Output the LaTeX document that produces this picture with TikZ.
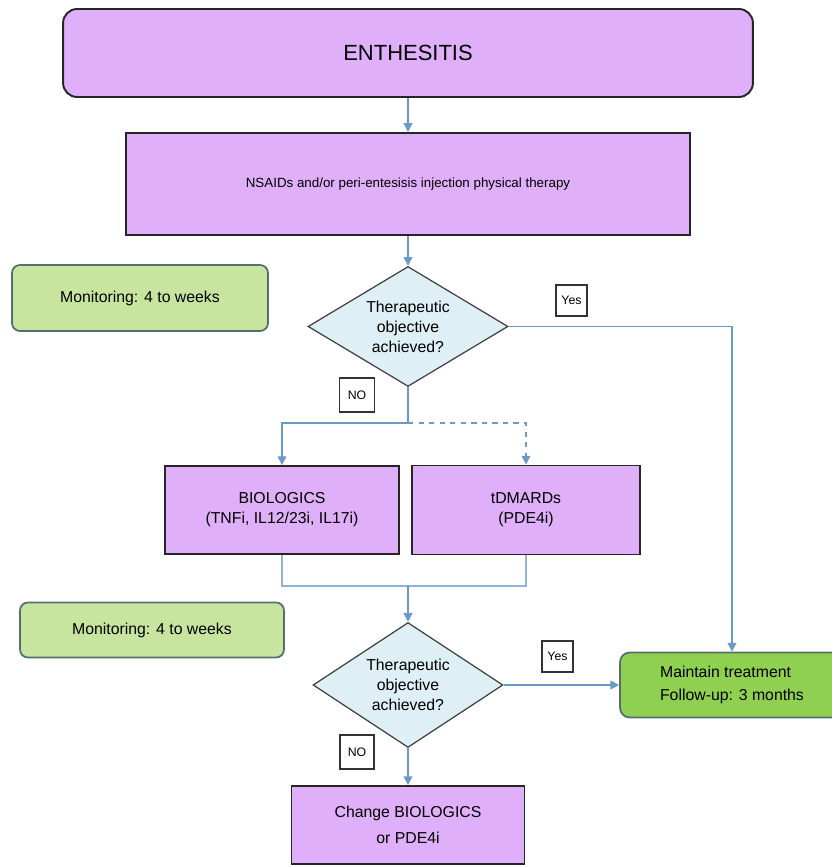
\documentclass[tikz,border=0pt]{standalone}
\usepackage{fontspec}
\setmainfont{Liberation Sans}
\usetikzlibrary{arrows.meta, positioning, shapes.geometric}
\definecolor{boxcolor}{RGB}{223,175,249}
\definecolor{decisioncolor}{RGB}{222,239,245}
\definecolor{monitorcolor}{RGB}{200,229,160}
\definecolor{monitorline}{RGB}{85,110,110}
\definecolor{keepcolor}{RGB}{144,208,80}
\definecolor{linkcolor}{RGB}{106,155,200}
\tikzset{
  block/.style={
    rectangle,
    draw=black!85,
    line width=1.1pt,
    fill=boxcolor,
    align=center,
    inner sep=0pt,
    font=\fontsize{9}{11.4}\selectfont
  },
  decision/.style={
    diamond,
    draw=black!75,
    line width=0.7pt,
    fill=decisioncolor,
    aspect=1.6,
    inner sep=0pt,
    align=center,
    font=\fontsize{9}{11.4}\selectfont
  },
  monitor/.style={
    rectangle,
    rounded corners=4.5pt,
    draw=monitorline,
    line width=1pt,
    fill=monitorcolor,
    font=\fontsize{9}{11}\selectfont
  },
  tag/.style={
    rectangle,
    draw=black!80,
    line width=0.6pt,
    fill=white,
    inner sep=0pt,
    font=\fontsize{7}{8}\selectfont
  },
  arrow/.style={
    -{Triangle[width=5pt,length=5pt]},
    linkcolor,
    line width=0.8pt
  },
  link/.style={
    linkcolor!75,
    line width=0.8pt
  }
}

\begin{document}
\begin{tikzpicture}[x=0.02cm, y=-0.02cm]
\useasboundingbox (0,0) rectangle (832,866);

% Nodes
\node[block, rounded corners=8pt, minimum width=13.8cm, minimum height=1.76cm,
  font=\fontsize{12.5}{15}\selectfont] (title) at (408,53) {ENTHESITIS};

\node[block, minimum width=11.3cm, minimum height=2.04cm,
  font=\fontsize{7.6}{9}\selectfont, below=0.68cm of title] (nsaid)
  {NSAIDs and/or peri-entesisis injection physical therapy};

\node[decision, minimum width=4cm, minimum height=2.4cm, below=0.6cm of nsaid] (check1)
  {Therapeutic\\objective\\achieved?};

\node[monitor, minimum width=5.12cm, minimum height=1.32cm] (watch1) at (140,298)
  {Monitoring: 4 to weeks};

\node[block, minimum width=4.68cm, minimum height=1.76cm] (bio) at (282,510)
  {BIOLOGICS\\(TNFi, IL12/23i, IL17i)};
\node[block, minimum width=4.56cm, minimum height=1.78cm] (tdm) at (526,510)
  {tDMARDs\\(PDE4i)};

\node[monitor, minimum width=5.28cm, minimum height=1.1cm] (watch2) at (152,630)
  {Monitoring: 4 to weeks};

\node[decision, minimum width=3.8cm, minimum height=2.5cm] (check2) at (408,685)
  {Therapeutic\\objective\\achieved?};

\node[monitor, draw=monitorline, fill=keepcolor, rounded corners=5.5pt,
  minimum width=4.48cm, minimum height=1.3cm, align=left,
  font=\fontsize{9}{13.1}\selectfont] (keep) at (732,685)
  {Maintain treatment\\Follow-up: 3 months};

\node[block, minimum width=4.66cm, minimum height=1.56cm,
  font=\fontsize{9}{14.8}\selectfont, below=0.74cm of check2] (change)
  {Change BIOLOGICS\\or PDE4i};

% Labels
\node[tag, minimum width=0.62cm, minimum height=0.62cm] (yes1) at (571.5,300.5) {Yes};
\node[tag, minimum width=0.7cm, minimum height=0.68cm] (no1) at (357,395) {NO};
\node[tag, minimum width=0.62cm, minimum height=0.62cm] (yes2) at (557.5,656.5) {Yes};
\node[tag, minimum width=0.68cm, minimum height=0.68cm] (no2) at (357,752) {NO};

% Branch points
\coordinate (split) at (check1.south |- 0,423);
\coordinate (join) at (check2.north |- 0,586);

% Vertical arrows
\draw[arrow] (title) -- (nsaid);
\draw[arrow] (nsaid) -- (check1);
\draw[arrow] (check1.south) -- (split) -| (bio.north);
\draw[arrow, dashed] (split) -| (tdm.north);
\draw[link] (bio.south) |- (join);
\draw[link] (tdm.south) |- (join);
\draw[arrow] (join) -- (check2.north);
\draw[arrow] (check2.south) -- (change.north);

% Yes branches
\draw[arrow] (check1.east) -| (keep.north);
\draw[arrow] (check2.east) -- (keep.west);

\end{tikzpicture}
\end{document}
